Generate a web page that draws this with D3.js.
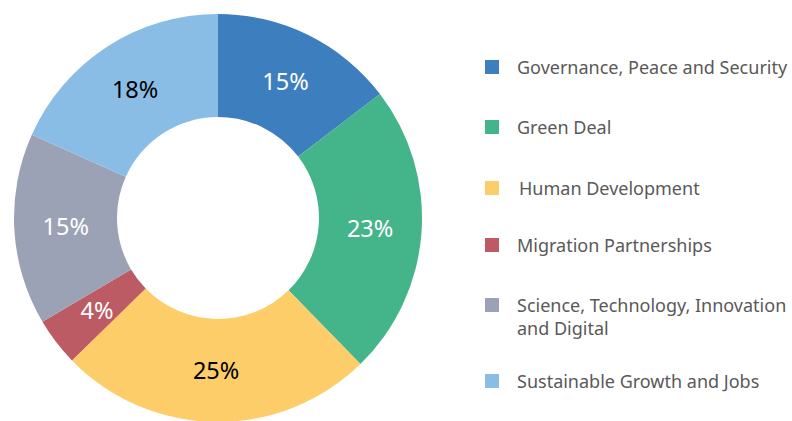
<!DOCTYPE html>
<html>
<head>
<meta charset="utf-8">
<script src="https://cdn.jsdelivr.net/npm/d3@7"></script>
<style>
  body { margin: 0; background: #fff; }
  svg { display: block; font-family: "Noto Sans", sans-serif; }
</style>
</head>
<body>
<div id="chart"></div>
<script>
const categories = [
  "Governance, Peace and Security",
  "Green Deal",
  "Human Development",
  "Migration Partnerships",
  "Science, Technology, Innovation and Digital",
  "Sustainable Growth and Jobs",
];
const shares = [14.6, 23.1, 25.0, 3.8, 15.2, 18.3];
const legendLines = [
  ["Governance, Peace and Security"],
  ["Green Deal"],
  ["Human Development"],
  ["Migration Partnerships"],
  ["Science, Technology, Innovation", "and Digital"],
  ["Sustainable Growth and Jobs"],
];
const colors = ["#3d7ebf", "#44b48a", "#fdcd6a", "#bd5b65", "#9ca2b5", "#8abde6"];
const labelColors = ["#fff", "#fff", "#000", "#fff", "#fff", "#000"];

const data = categories.map((name, i) => ({ name, value: shares[i], i }));

const size = { width: 792, height: 421 };
const center = { x: 218, y: 218 };
const radius = { outer: 204, inner: 101 };

const svg = d3
  .select("#chart")
  .append("svg")
  .attr("width", size.width)
  .attr("height", size.height);

const total = d3.sum(shares);
const pie = d3.pie().sort(null).value((d) => d.value);
const arc = d3.arc().innerRadius(radius.inner).outerRadius(radius.outer);

const donut = svg
  .append("g")
  .attr("transform", `translate(${center.x}, ${center.y})`);

const arcs = pie(data);

donut
  .selectAll("path")
  .data(arcs)
  .join("path")
  .attr("d", arc)
  .attr("fill", (d) => colors[d.data.i]);

donut
  .selectAll("text")
  .data(arcs)
  .join("text")
  .text((d) => Math.round((d.data.value / total) * 100) + "%")
  .attr("x", (d) => arc.centroid(d)[0])
  .attr("y", (d) => arc.centroid(d)[1])
  .attr("dy", "0.36em")
  .attr("text-anchor", "middle")
  .attr("font-size", "23.5px")
  .attr("fill", (d) => labelColors[d.data.i]);

// legend
const legendY = [67, 127, 188, 245, 305, 381];
const legend = svg.append("g");
data.forEach((d, i) => {
  const g = legend.append("g").attr("transform", `translate(485, ${legendY[i]})`);
  g.append("rect")
    .attr("x", 0)
    .attr("y", -7)
    .attr("width", 14)
    .attr("height", 14)
    .attr("fill", colors[i]);
  const t = g
    .append("text")
    .attr("x", 32)
    .attr("y", 7)
    .attr("font-size", "18px")
    .attr("fill", "#595959");
  legendLines[i].forEach((line, j) => {
    t.append("tspan").attr("x", i === 2 ? 34 : 32).attr("dy", j === 0 ? 0 : 23).text(line);
  });
});
</script>
</body>
</html>
